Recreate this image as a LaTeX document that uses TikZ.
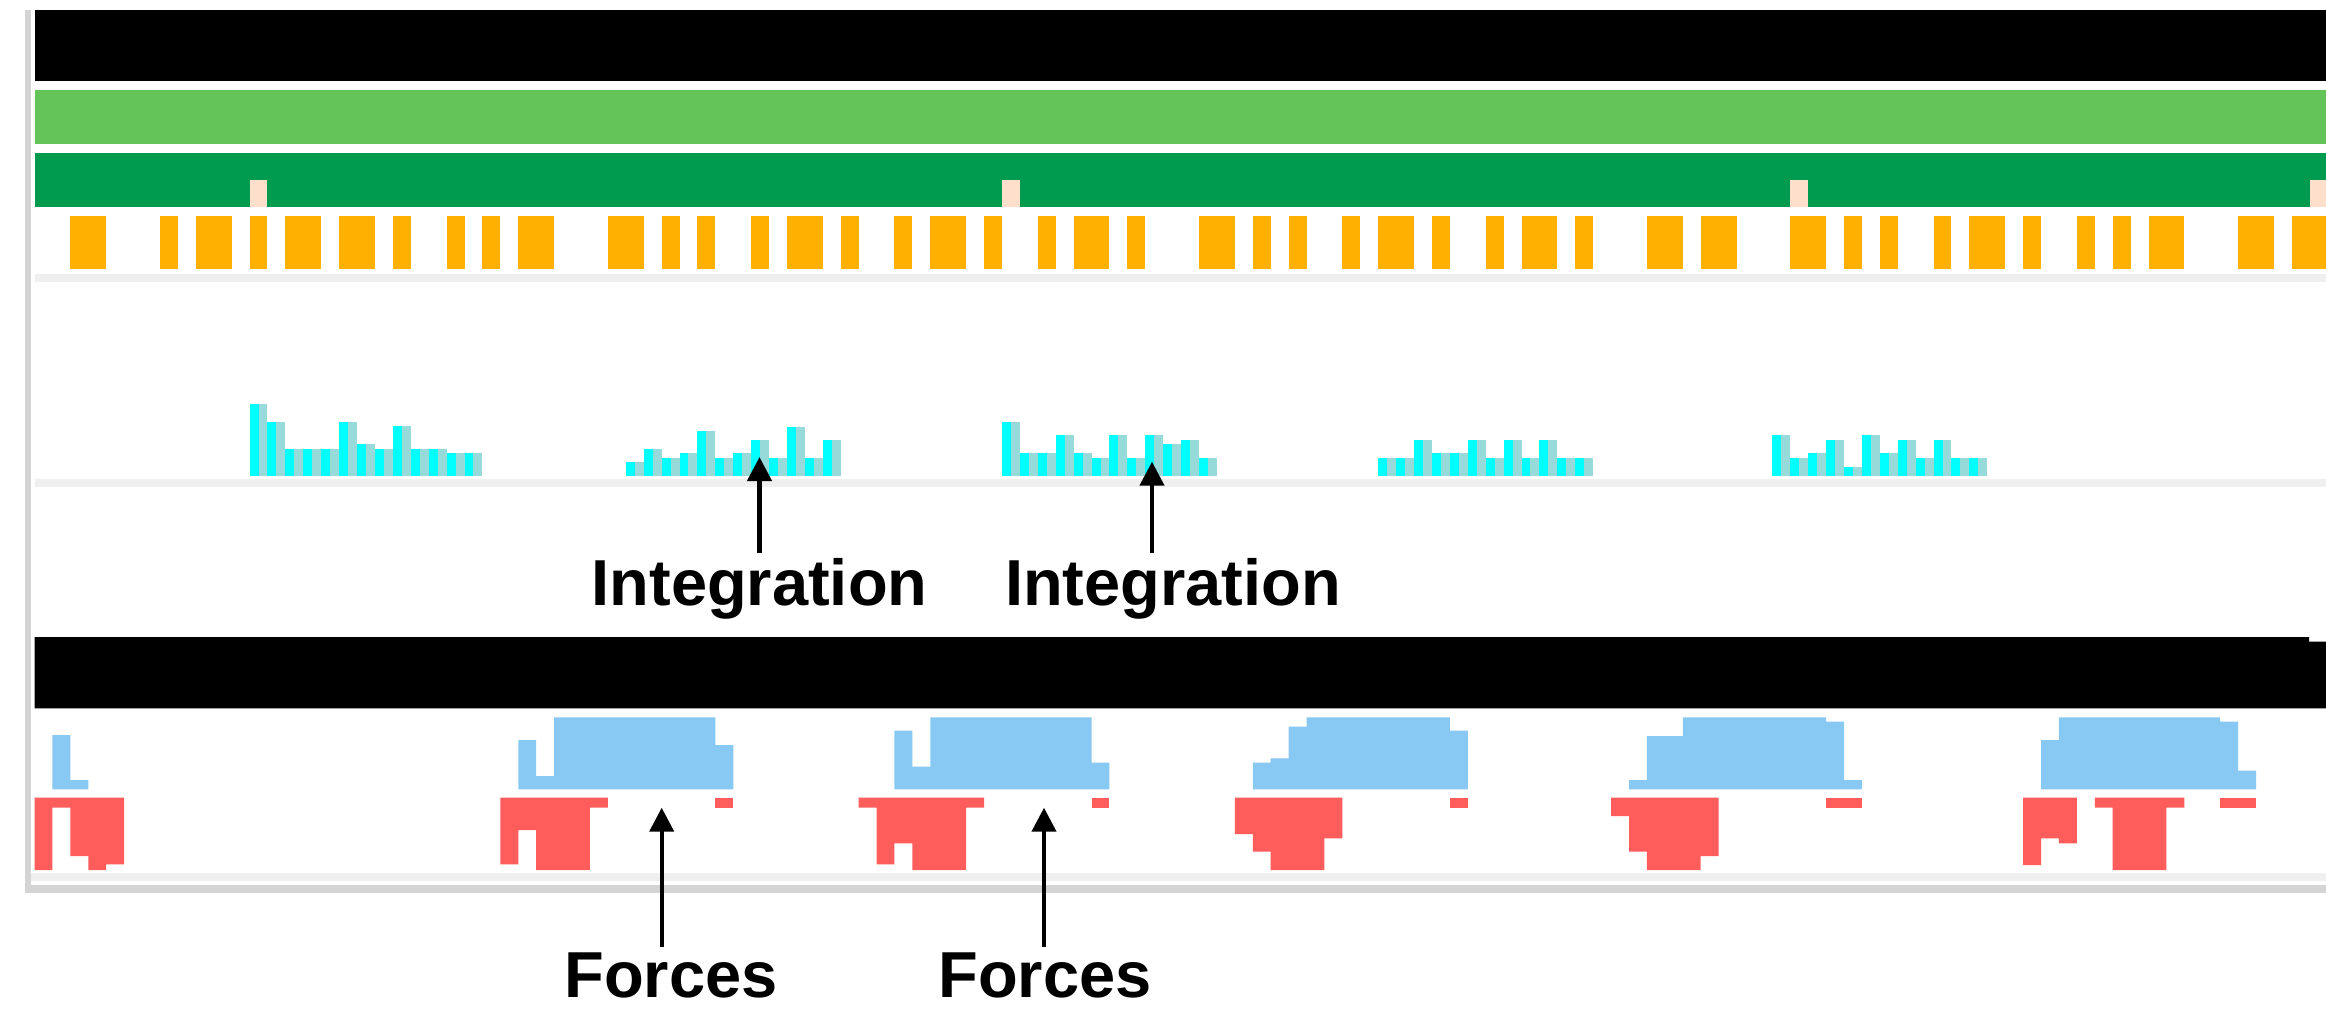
\documentclass[tikz,border=0pt]{standalone}
\usepackage{fontspec}
\setmainfont{Liberation Sans}
\usetikzlibrary{arrows.meta}

\definecolor{lightgreen}{HTML}{64C45A}
\definecolor{darkgreen}{HTML}{009B4F}
\definecolor{orangebar}{HTML}{FFB000}
\definecolor{peach}{HTML}{FDDFCB}
\definecolor{cyanbar}{HTML}{00FFFF}
\definecolor{tealbar}{HTML}{96DADA}
\definecolor{skyblue}{HTML}{87C9F2}
\definecolor{redbar}{HTML}{FF5C5C}
\definecolor{sepgrey}{HTML}{EFEFEF}
\definecolor{framegrey}{HTML}{D4D4D4}

\begin{document}
\begin{tikzpicture}[x=0.5pt,y=-0.5pt,
  caption/.style={font=\fontsize{32.5}{39}\selectfont\bfseries, inner sep=0pt, anchor=base},
  pointer/.style={line width=2.2pt, -{Triangle[length=12pt,width=12pt]}, shorten <=2.5pt},
  ]
\fill[white] (0,0) rectangle (2326,1008);
\useasboundingbox (0,0) rectangle (2326,1008);

% frame of the timeline panel
\fill[framegrey] (24.5,10) rectangle (30.6,893);
\fill[framegrey] (24.5,885) rectangle (2326,893);

% full-width tracks
\fill[black] (34.7,10) rectangle (2326,81);
\fill[lightgreen] (34.7,90) rectangle (2326,144);
\fill[darkgreen] (34.7,153) rectangle (2326,207);
\fill[sepgrey] (34.7,274) rectangle (2326,282);
\fill[sepgrey] (34.7,479) rectangle (2326,487);
\fill[black] (34.7,637) -- (2309,637) -- (2309,641.7) -- (2326,641.7)
  -- (2326,708.3) -- (34.7,708.3) -- cycle;
\fill[sepgrey] (30.6,873) rectangle (2326,881);

% everything below is laid out on the sample grid
\begin{scope}[x=8.9575pt, xshift=35.2pt]
  % frame markers in the dark green track
  \foreach \k in {10,52,96,125}
    \fill[peach] (\k,180) rectangle (\k+1,207);

  % task blocks
  \foreach \k/\n in {0/2,5/1,7/2,10/1,12/2,15/2,18/1,21/1,23/1,25/2,30/2,33/1,
                     35/1,38/1,40/2,43/1,46/1,48/2,51/1,54/1,56/2,59/1,63/2,66/1,
                     68/1,71/1,73/2,76/1,79/1,81/2,84/1,88/2,91/2,96/2,99/1,101/1,
                     104/1,106/2,109/1,112/1,114/1,116/2,121/2,124/2}
    \fill[orangebar] (\k,216) rectangle (\k+\n,269);

  % histogram columns (cyan half, teal half)
  \foreach \k/\t in {10/404,11/421.7,12/449,13/449,14/449,15/421.7,16/444,17/449,
                     18/426,19/449,20/449,21/453.3,22/453.3,
                     31/461.7,32/449,33/458.3,34/453.3,35/431,36/458.3,37/453.3,
                     38/440,39/458.3,40/426.7,41/458.3,42/440,
                     52/421.7,53/453.3,54/453.3,55/435,56/453.3,57/458.3,58/435,
                     59/458.3,60/435,61/444.3,62/440,63/458.3,
                     73/458.3,74/458.3,75/440,76/453.3,77/453.3,78/440,79/458.3,
                     80/440,81/458.3,82/440,83/458.3,84/458.3,
                     95/435,96/458.3,97/453.3,98/440,99/467.3,100/435,101/453.3,
                     102/440,103/458.3,104/440,105/458.3,106/458.3}
  {
    \fill[cyanbar] (\k,\t) rectangle (\k+0.5,476);
    \fill[tealbar] (\k+0.5,\t) rectangle (\k+1,476);
  }

  % blue load profiles
  \fill[skyblue] (-1,789.3) -- (-1,735) -- (0,735) -- (0,780) -- (1,780) -- (1,789.3) -- cycle;
  \fill[skyblue] (25,789.3) -- (25,740) -- (26,740) -- (26,776) -- (27,776) -- (27,717.3)
    -- (36,717.3) -- (36,745) -- (37,745) -- (37,789.3) -- cycle;
  \fill[skyblue] (46,789.3) -- (46,730.7) -- (47,730.7) -- (47,766.7) -- (48,766.7) -- (48,717.3)
    -- (57,717.3) -- (57,762.7) -- (58,762.7) -- (58,789.3) -- cycle;
  \fill[skyblue] (66,789.3) -- (66,762.7) -- (67,762.7) -- (67,758.3) -- (68,758.3) -- (68,726.7)
    -- (69,726.7) -- (69,717.3) -- (77,717.3) -- (77,730.7) -- (78,730.7) -- (78,789.3) -- cycle;
  \fill[skyblue] (87,789.3) -- (87,780) -- (88,780) -- (88,736) -- (90,736) -- (90,717.3)
    -- (98,717.3) -- (98,721.7) -- (99,721.7) -- (99,780) -- (100,780) -- (100,789.3) -- cycle;
  \fill[skyblue] (110,789.3) -- (110,740) -- (111,740) -- (111,717.3) -- (120,717.3)
    -- (120,721.7) -- (121,721.7) -- (121,770.7) -- (122,770.7) -- (122,789.3) -- cycle;

  % red load profiles
  \fill[redbar] (-2,797.7) -- (3,797.7) -- (3,864.3) -- (2,864.3) -- (2,870) -- (1,870)
    -- (1,856) -- (0,856) -- (0,807.7) -- (-1,807.7) -- (-1,870) -- (-2,870) -- cycle;
  \fill[redbar] (24,797.7) -- (30,797.7) -- (30,807.7) -- (29,807.7) -- (29,870) -- (26,870)
    -- (26,830) -- (25,830) -- (25,864.3) -- (24,864.3) -- cycle;
  \fill[redbar] (36,797.7) rectangle (37,807.7);
  \fill[redbar] (44,797.7) -- (51,797.7) -- (51,807.7) -- (50,807.7) -- (50,870) -- (47,870)
    -- (47,843.3) -- (46,843.3) -- (46,864.3) -- (45,864.3) -- (45,807.7) -- (44,807.7) -- cycle;
  \fill[redbar] (57,797.7) rectangle (58,807.7);
  \fill[redbar] (65,797.7) -- (71,797.7) -- (71,838.3) -- (70,838.3) -- (70,870) -- (67,870)
    -- (67,851.7) -- (66,851.7) -- (66,834) -- (65,834) -- cycle;
  \fill[redbar] (77,797.7) rectangle (78,807.7);
  \fill[redbar] (86,797.7) -- (92,797.7) -- (92,856) -- (91,856) -- (91,870) -- (88,870)
    -- (88,851.7) -- (87,851.7) -- (87,816) -- (86,816) -- cycle;
  \fill[redbar] (98,797.7) rectangle (100,807.7);
  \fill[redbar] (109,797.7) -- (112,797.7) -- (112,843.3) -- (111,843.3) -- (111,838.3)
    -- (110,838.3) -- (110,865) -- (109,865) -- cycle;
  \fill[redbar] (113,797.7) -- (118,797.7) -- (118,807.7) -- (117,807.7) -- (117,870)
    -- (114,870) -- (114,807.7) -- (113,807.7) -- cycle;
  \fill[redbar] (120,797.7) rectangle (122,807.7);
\end{scope}

% annotations
\coordinate (inttipA) at (759.5,457);
\coordinate (inttipB) at (1152,461.7);
\coordinate (forcetipA) at (661.7,807.7);
\coordinate (forcetipB) at (1044,807.7);

\node[caption] (intA) at (759.5,605) {Integration};
\node[caption] (intB) at (1173,605) {Integration};
\node[caption] (forceA) at (671,997) {Forces};
\node[caption] (forceB) at (1045,997) {Forces};

\draw[pointer] (inttipA |- intA.north) -- (inttipA);
\draw[pointer] (inttipB |- intB.north) -- (inttipB);
\draw[pointer] (forcetipA |- forceA.north) -- (forcetipA);
\draw[pointer] (forcetipB |- forceB.north) -- (forcetipB);
\end{tikzpicture}
\end{document}
